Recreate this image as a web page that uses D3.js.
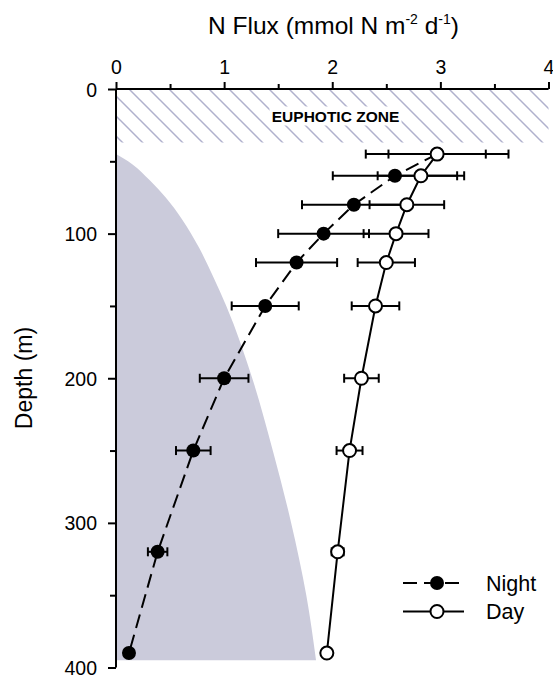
<!DOCTYPE html>
<html>
<head>
<meta charset="utf-8">
<script src="https://cdn.jsdelivr.net/npm/d3@7"></script>
<style>
  body { margin: 0; background: #fff; }
  svg { font-family: "Liberation Sans", Arial, sans-serif; }
</style>
</head>
<body>
<div id="chart"></div>
<script>
//Data//
//Sampling depths (m)
var depths = [45, 60, 80, 100, 120, 150, 200, 250, 320, 390];
//Night flux and error
var nightFlux = [2.97, 2.58, 2.20, 1.92, 1.67, 1.38, 1.00, 0.715, 0.385, 0.12];
var nightErr = [0.66, 0.575, 0.48, 0.42, 0.375, 0.31, 0.225, 0.16, 0.09, 0.03];
//Day flux and error
var dayFlux = [2.97, 2.82, 2.69, 2.59, 2.50, 2.40, 2.27, 2.16, 2.05, 1.95];
var dayErr = [0.45, 0.40, 0.345, 0.30, 0.265, 0.22, 0.16, 0.12, 0.055, 0.02];
//Shaded profile (edge of grey area)
var shadeDepth = [45, 52, 63, 75, 90, 110, 130, 150, 200, 250, 300, 350, 395];
var shadeFlux = [0, 0.15, 0.31, 0.46, 0.61, 0.77, 0.90, 1.02, 1.26, 1.45, 1.62, 1.76, 1.85];
//Euphotic zone depth range
var euphotic = [0, 37];
//Axis ticks
var xTicks = [0, 1, 2, 3, 4];
var xMinor = [0.5, 1.5, 2.5, 3.5];
var yTicks = [0, 100, 200, 300, 400];
var yMinor = [50, 150, 250, 350];
var legendNames = ["Night", "Day"];

var w = 553, h = 678;
var x = d3.scaleLinear().domain([0, 4]).range([116, 548.5]);
var y = d3.scaleLinear().domain([0, 400]).range([89, 667.5]);

var svg = d3.select("#chart")
  .append("svg")
  .attr("width", w)
  .attr("height", h);

//Hatch pattern for euphotic zone
var defs = svg.append("defs");
defs.append("pattern")
  .attr("id", "hatch")
  .attr("patternUnits", "userSpaceOnUse")
  .attr("width", 20)
  .attr("height", 20)
  .append("path")
  .attr("d", "M-5,-5L25,25M-5,15L5,25M15,-5L25,5")
  .attr("stroke", "#b0b1cd")
  .attr("stroke-width", 1.5);

svg.append("rect")
  .attr("x", x(0))
  .attr("y", y(euphotic[0]))
  .attr("width", x(4) - x(0))
  .attr("height", y(euphotic[1]) - y(euphotic[0]))
  .attr("fill", "url(#hatch)");

//Euphotic zone label with white box
var ezX = 335.5, ezY = 121.5;
svg.append("rect")
  .attr("x", ezX - 66)
  .attr("y", ezY - 15)
  .attr("width", 132)
  .attr("height", 19)
  .attr("fill", "#fff");
svg.append("text")
  .attr("x", ezX)
  .attr("y", ezY)
  .attr("text-anchor", "middle")
  .attr("font-weight", "bold")
  .attr("font-size", 15.5)
  .text("EUPHOTIC ZONE");

//Grey shaded area
var shadePts = shadeDepth.map(function(d, i) { return [shadeFlux[i], d]; });
var shadeLine = d3.line()
  .x(function(d) { return x(d[0]); })
  .y(function(d) { return y(d[1]); })
  .curve(d3.curveMonotoneY);
var lastD = shadeDepth[shadeDepth.length - 1];
svg.append("path")
  .attr("d", shadeLine(shadePts) + "L" + x(0) + "," + y(lastD) + "Z")
  .attr("fill", "#cbcbdb");

//Lines
var line = d3.line()
  .x(function(d) { return x(d[0]); })
  .y(function(d) { return y(d[1]); });
var nightPts = depths.map(function(d, i) { return [nightFlux[i], d, nightErr[i]]; });
var dayPts = depths.map(function(d, i) { return [dayFlux[i], d, dayErr[i]]; });

svg.append("path")
  .attr("d", line(nightPts))
  .attr("fill", "none")
  .attr("stroke", "#000")
  .attr("stroke-width", 2)
  .attr("stroke-dasharray", "14,7");
svg.append("path")
  .attr("d", line(dayPts))
  .attr("fill", "none")
  .attr("stroke", "#000")
  .attr("stroke-width", 2);

//Error bars
function errorBars(pts, cls) {
  var g = svg.append("g").attr("class", cls)
    .attr("stroke", "#000")
    .attr("stroke-width", 2);
  g.selectAll("line.bar")
    .data(pts)
    .enter()
    .append("line")
    .attr("class", "bar")
    .attr("x1", function(d) { return x(d[0] - d[2]); })
    .attr("x2", function(d) { return x(d[0] + d[2]); })
    .attr("y1", function(d) { return y(d[1]); })
    .attr("y2", function(d) { return y(d[1]); });
  [-1, 1].forEach(function(s) {
    g.selectAll("line.cap" + (s + 1))
      .data(pts)
      .enter()
      .append("line")
      .attr("class", "cap" + (s + 1))
      .attr("x1", function(d) { return x(d[0] + s * d[2]); })
      .attr("x2", function(d) { return x(d[0] + s * d[2]); })
      .attr("y1", function(d) { return y(d[1]) - 4.5; })
      .attr("y2", function(d) { return y(d[1]) + 4.5; });
  });
}
errorBars(nightPts, "nightErr");
errorBars(dayPts, "dayErr");

//Markers
svg.selectAll("circle.night")
  .data(nightPts)
  .enter()
  .append("circle")
  .attr("class", "night")
  .attr("cx", function(d) { return x(d[0]); })
  .attr("cy", function(d) { return y(d[1]); })
  .attr("r", 7)
  .attr("fill", "#000");
svg.selectAll("circle.day")
  .data(dayPts)
  .enter()
  .append("circle")
  .attr("class", "day")
  .attr("cx", function(d) { return x(d[0]); })
  .attr("cy", function(d) { return y(d[1]); })
  .attr("r", 6.5)
  .attr("fill", "#fff")
  .attr("stroke", "#000")
  .attr("stroke-width", 2);

//Axes
var xAxis = svg.append("g")
  .attr("transform", "translate(0," + y(0) + ")")
  .call(d3.axisTop(x).tickValues(xTicks).tickSize(7).tickPadding(8).tickFormat(d3.format("d")));
xAxis.append("g")
  .call(d3.axisTop(x).tickValues(xMinor).tickSize(5).tickFormat(""));
var yAxis = svg.append("g")
  .attr("transform", "translate(" + x(0) + ",0)")
  .call(d3.axisLeft(y).tickValues(yTicks).tickSize(8).tickPadding(11).tickFormat(d3.format("d")));
yAxis.append("g")
  .call(d3.axisLeft(y).tickValues(yMinor).tickSize(6).tickFormat(""));
svg.selectAll(".domain").attr("stroke-width", 2).attr("d", null);
xAxis.select(".domain").attr("d", "M" + x(0) + ",0H" + x(4));
yAxis.select(".domain").attr("d", "M0," + y(0) + "V" + y(400));
svg.selectAll(".tick line").attr("stroke-width", 2);
svg.selectAll(".tick text").attr("font-size", 19.5).attr("fill", "#000")
  .style("font-family", "'Liberation Sans', Arial, sans-serif");
yAxis.selectAll(".tick text").attr("dy", "0.36em");

//Titles
var title = svg.append("text")
  .attr("x", 333.5)
  .attr("y", 34)
  .attr("text-anchor", "middle")
  .attr("font-size", 24.5);
title.append("tspan").text("N Flux (mmol N m");
title.append("tspan").attr("font-size", 14).attr("dy", -10).text("-2");
title.append("tspan").attr("dy", 10).text(" d");
title.append("tspan").attr("font-size", 14).attr("dy", -10).text("-1");
title.append("tspan").attr("dy", 10).text(")");

svg.append("text")
  .attr("transform", "translate(32,378) rotate(-90)")
  .attr("text-anchor", "middle")
  .attr("font-size", 23)
  .text("Depth (m)");

//Legend
var legend = svg.selectAll("g.legend")
  .data(legendNames)
  .enter()
  .append("g")
  .attr("class", "legend")
  .attr("transform", function(d, i) { return "translate(0," + (583 + i * 28.5) + ")"; });
legend.append("line")
  .attr("x1", 403)
  .attr("x2", 464)
  .attr("stroke", "#000")
  .attr("stroke-width", 2)
  .attr("stroke-dasharray", function(d, i) { return i === 0 ? "14,7" : null; });
legend.append("circle")
  .attr("cx", 437)
  .attr("r", function(d, i) { return i === 0 ? 7 : 6.5; })
  .attr("fill", function(d, i) { return i === 0 ? "#000" : "#fff"; })
  .attr("stroke", "#000")
  .attr("stroke-width", function(d, i) { return i === 0 ? 0 : 2; });
legend.append("text")
  .attr("x", 486)
  .attr("dy", "0.36em")
  .attr("font-size", 21.5)
  .text(function(d) { return d; });
</script>
</body>
</html>
